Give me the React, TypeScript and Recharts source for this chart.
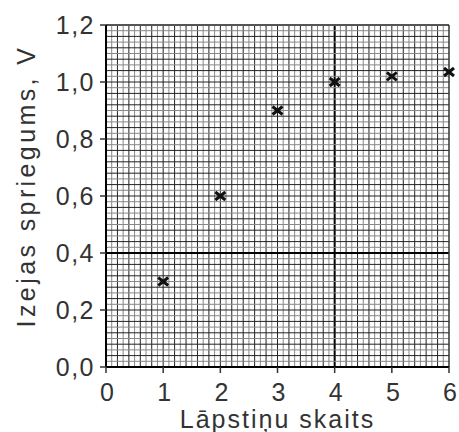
import { ScatterChart, Scatter, XAxis, YAxis, ReferenceLine } from 'recharts';

const bladeCounts = [1, 2, 3, 4, 5, 6];
const outputVoltage = [0.3, 0.6, 0.9, 1.0, 1.02, 1.035];
const xTicks = [0, 1, 2, 3, 4, 5, 6];
const yTicks = [0, 0.2, 0.4, 0.6, 0.8, 1.0, 1.2];

const points = bladeCounts.map((n, i) => ({ x: n, y: outputVoltage[i] }));

// graph paper lines: every 0.1 on x, every 0.02 on y
const gridX: number[] = [];
for (let i = 1; i < 60; i++) gridX.push(i / 10);
const gridY: number[] = [];
for (let i = 1; i < 60; i++) gridY.push(i / 50);

const fmt = (v: number) => v.toFixed(1).replace('.', ',');
const font = '"Liberation Sans", Arial, sans-serif';

const Cross = (props: any) => {
  const { cx, cy } = props;
  if (cx == null || cy == null) return null;
  const w = 5;
  const h = 4;
  return (
    <g stroke="#111" strokeWidth={3} strokeLinecap="butt">
      <line x1={cx - w} y1={cy - h} x2={cx + w} y2={cy + h} />
      <line x1={cx - w} y1={cy + h} x2={cx + w} y2={cy - h} />
    </g>
  );
};

const XTick = (props: any) => {
  const { x, y, payload } = props;
  return (
    <text x={x + 1} y={y} dy="0.71em" textAnchor="middle" fontSize={25} fill="#333" fontFamily={font}>
      {payload.value}
    </text>
  );
};

const YTick = (props: any) => {
  const { x, y, payload } = props;
  return (
    <text x={x + 1} y={y} dy="0.355em" textAnchor="end" fontSize={25} fill="#333" fontFamily={font} letterSpacing={1.5}>
      {fmt(payload.value)}
    </text>
  );
};

const XLabel = (props: any) => {
  const vb = props.viewBox || {};
  return (
    <text x={vb.x + vb.width / 2} y={428} textAnchor="middle" fontSize={25} fill="#333" fontFamily={font} letterSpacing={2}>
      Lāpstiņu skaits
    </text>
  );
};

const YLabel = () => (
  <text x={35} y={186} transform="rotate(-90, 35, 186)" textAnchor="middle" fontSize={25} fill="#333" fontFamily={font} letterSpacing={3.4}>
    Izejas spriegums, V
  </text>
);

export default function App() {
  return (
    <div style={{ position: 'absolute', left: 0, top: 0, width: 459, height: 432, background: '#fff' }}>
      <ScatterChart width={459} height={432} margin={{ top: 25, right: 10, bottom: 0, left: 0 }}>
        {gridX.map((v, i) => (
          <ReferenceLine
            key={'gx' + i}
            x={v}
            stroke={v === 4 ? '#000' : i % 2 === 1 ? '#222' : '#888'}
            strokeWidth={v === 4 ? 2 : 1}
            ifOverflow="hidden"
          />
        ))}
        {gridY.map((v, i) => (
          <ReferenceLine
            key={'gy' + i}
            y={v}
            stroke={Math.abs(v - 0.4) < 1e-9 ? '#000' : i % 2 === 1 ? '#222' : '#888'}
            strokeWidth={Math.abs(v - 0.4) < 1e-9 ? 2 : 1}
            ifOverflow="hidden"
          />
        ))}
        <ReferenceLine y={1.2} stroke="#555" strokeWidth={2} />
        <ReferenceLine x={6} stroke="#333" strokeWidth={1.5} />
        <XAxis
          type="number"
          dataKey="x"
          domain={[0, 6]}
          ticks={xTicks}
          height={65}
          axisLine={{ stroke: '#000', strokeWidth: 2 }}
          tickLine={{ stroke: '#333', strokeWidth: 1.5 }}
          tickSize={6}
          tickMargin={10}
          tick={<XTick />}
          label={<XLabel />}
        />
        <YAxis
          type="number"
          dataKey="y"
          domain={[0, 1.2]}
          ticks={yTicks}
          width={106}
          axisLine={{ stroke: '#000', strokeWidth: 2 }}
          tickLine={{ stroke: '#333', strokeWidth: 1.5 }}
          tickSize={6}
          tickMargin={6}
          tick={<YTick />}
          label={<YLabel />}
        />
        <Scatter data={points} shape={<Cross />} isAnimationActive={false} />
      </ScatterChart>
    </div>
  );
}
